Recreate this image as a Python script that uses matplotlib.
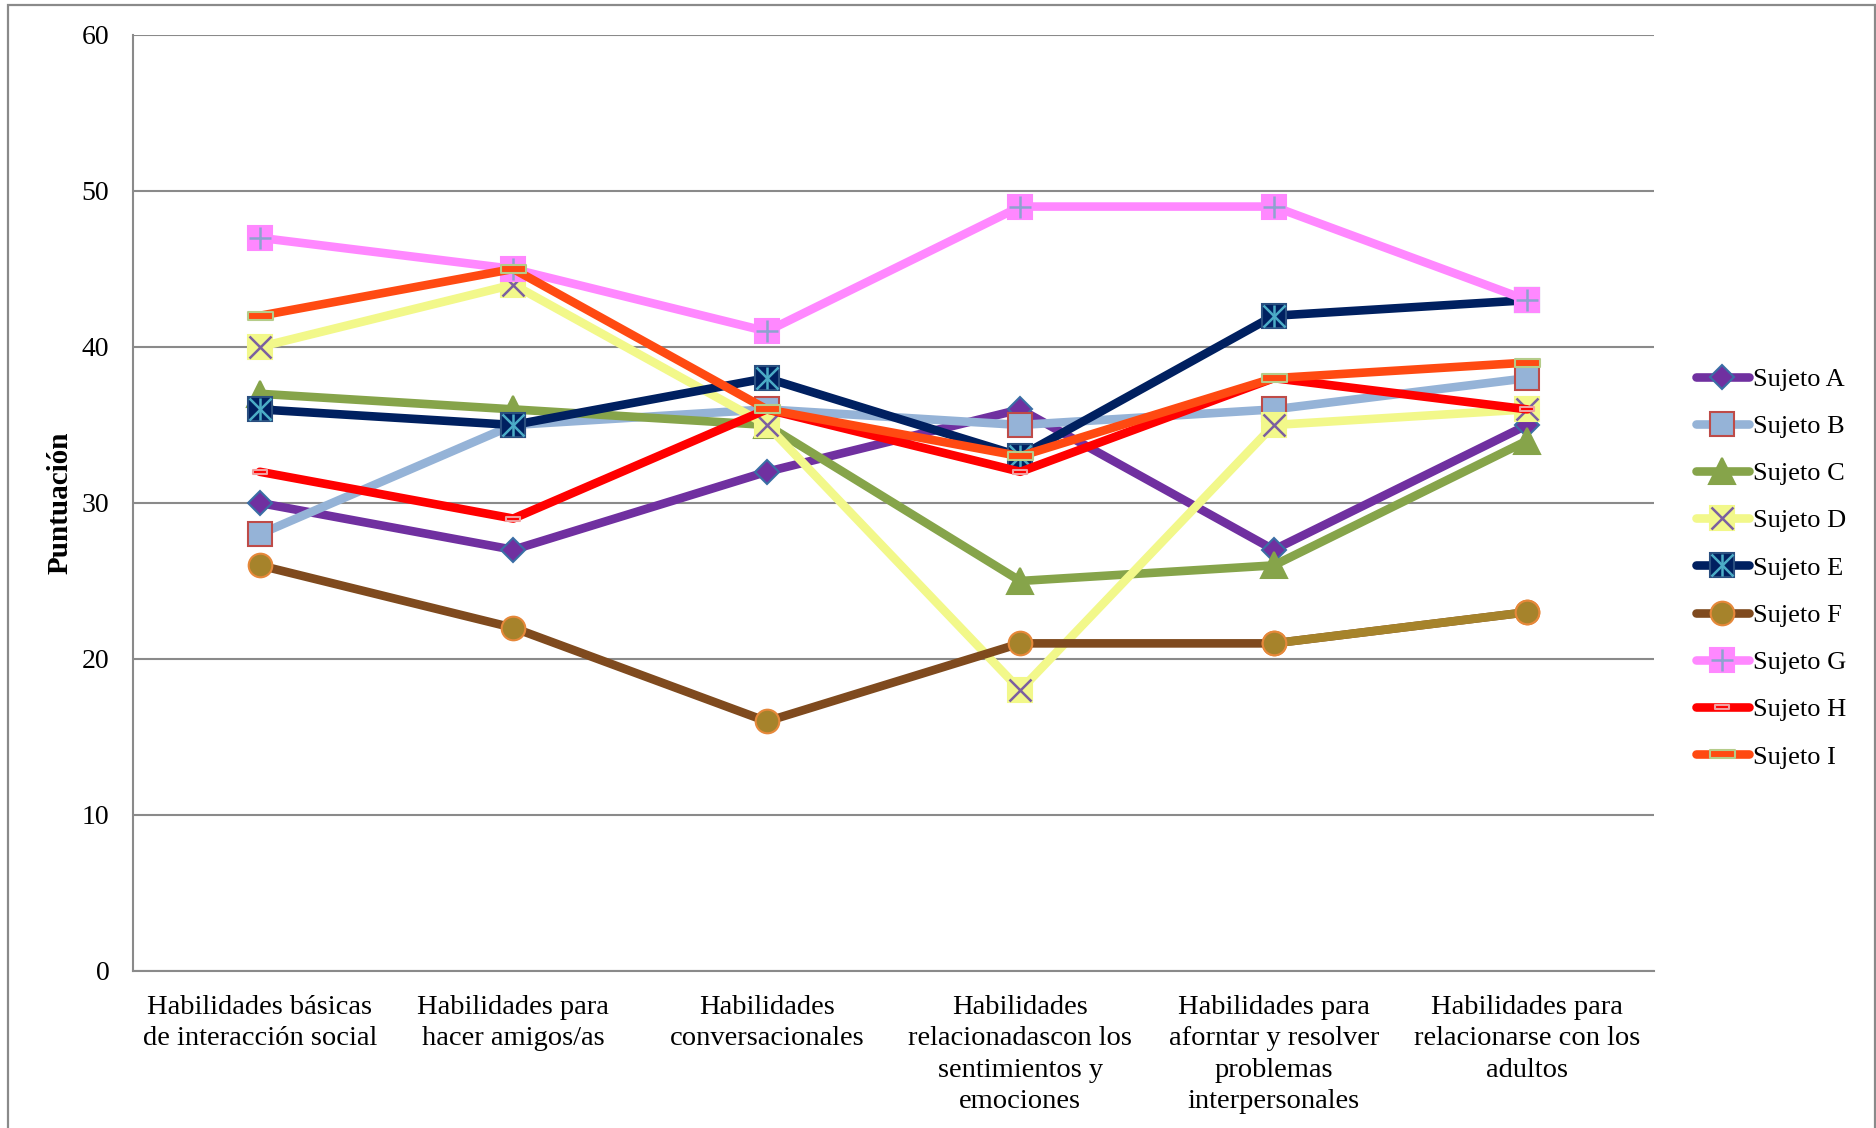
import numpy as np
import matplotlib
matplotlib.use("Agg")
import matplotlib.pyplot as plt
from matplotlib.patches import Rectangle
from matplotlib.path import Path

plt.rcParams["font.family"] = ["Liberation Serif", "DejaVu Serif"]

# =========================
# Data
# =========================
categorias = [
    "Habilidades básicas\nde interacción social",
    "Habilidades para\nhacer amigos/as",
    "Habilidades\nconversacionales",
    "Habilidades\nrelacionadascon los\nsentimientos y\nemociones",
    "Habilidades para\naforntar y resolver\nproblemas\ninterpersonales",
    "Habilidades para\nrelacionarse con los\nadultos",
]

sujeto_a = [30, 27, 32, 36, 27, 35]
sujeto_b = [28, 35, 36, 35, 36, 38]
sujeto_c = [37, 36, 35, 25, 26, 34]
sujeto_d = [40, 44, 35, 18, 35, 36]
sujeto_e = [36, 35, 38, 33, 42, 43]
sujeto_f = [26, 22, 16, 21, 21, 23]
sujeto_g = [47, 45, 41, 49, 49, 43]
sujeto_h = [32, 29, 36, 32, 38, 36]
sujeto_i = [42, 45, 36, 33, 38, 39]

# =========================
# Styles
# =========================
LW = 6.2
GRID = "#8a8a8a"

# flat rectangle used as the "dash" marker
dash = Path([(-1, -0.35), (1, -0.35), (1, 0.35), (-1, 0.35), (-1, -0.35)],
            [Path.MOVETO, Path.LINETO, Path.LINETO, Path.LINETO, Path.CLOSEPOLY])

series = [
    # label, values, line color, marker, size, fill, edge, overlay markers
    ("Sujeto A", sujeto_a, "#7030A0", "D", 12.5, "#7030A0", "#3A6EA5", []),
    ("Sujeto B", sujeto_b, "#95B3D7", "s", 17, "#95B3D7", "#BE4B48", []),
    ("Sujeto C", sujeto_c, "#86A44A", "^", 19, "#86A44A", "#86A44A", []),
    ("Sujeto D", sujeto_d, "#F2F88A", "s", 17, "#F2F88A", "#F2F88A", [("x", "#7B5FA0")]),
    ("Sujeto E", sujeto_e, "#002060", "s", 17, "#002060", "#2A4F80", [("x", "#4BACC6"), ("|", "#4BACC6")]),
    ("Sujeto F", sujeto_f, "#7F4A1E", "o", 17, "#A6832B", "#E6883A", []),
    ("Sujeto G", sujeto_g, "#FF88FF", "s", 17, "#FF88FF", "#FF88FF", [("+", "#8EA2D0")]),
    ("Sujeto H", sujeto_h, "#FF0000", dash, 9.5, "#FF0000", "#F2A0A0", []),
    ("Sujeto I", sujeto_i, "#FF4A12", dash, 18, "#FF4A12", "#B5CC8A", []),
]

x = np.arange(len(categorias))

fig = plt.figure(figsize=(18.76, 11.28), dpi=100)
ax = fig.add_axes([0.0709, 0.1392, 0.8108, 0.8298])

handles = []
for k, (label, vals, lc, mk, ms, mfc, mec, over) in enumerate(series):
    z = 3 + k
    line, = ax.plot(x, vals, color=lc, lw=LW, marker=mk, markersize=ms,
                    markerfacecolor=mfc, markeredgecolor=mec, markeredgewidth=1.5,
                    solid_capstyle="round", solid_joinstyle="round",
                    zorder=z, clip_on=False)
    parts = [line]
    if label == "Sujeto F":
        # last segment of F comes out in the marker colour
        ax.plot(x[-2:], vals[-2:], color=mfc, lw=LW, solid_capstyle="round",
                zorder=z + 0.1)
        ax.plot(x[-2:], vals[-2:], ls="none", marker=mk, markersize=ms,
                markerfacecolor=mfc, markeredgecolor=mec, markeredgewidth=1.5,
                zorder=z + 0.2)
    for om, oc in over:
        o, = ax.plot(x, vals, ls="none", marker=om, markersize=ms * 0.95,
                     markeredgecolor=oc, markeredgewidth=1.8, zorder=z + 0.3)
        parts.append(o)
    handles.append(tuple(parts) if len(parts) > 1 else line)

# =========================
# Axes formatting
# =========================
ax.set_xlim(-0.5, len(categorias) - 0.5)
ax.set_ylim(0, 60)
ax.set_yticks(np.arange(0, 61, 10))
ax.set_xticks(x)
ax.set_xticklabels(categorias, fontsize=20.5, linespacing=1.34)
ax.tick_params(axis="y", labelsize=20, length=0, pad=17)
ax.tick_params(axis="x", length=0, pad=17)

ax.set_ylabel("Puntuación", fontsize=21, fontweight="bold", labelpad=6)

ax.grid(axis="y", color=GRID, lw=1.5)
ax.set_axisbelow(True)
for s in ["top", "right"]:
    ax.spines[s].set_visible(False)
for s in ["left", "bottom"]:
    ax.spines[s].set_color(GRID)
    ax.spines[s].set_linewidth(1.5)

fig.legend(handles, [s[0] for s in series], loc="center left",
           bbox_to_anchor=(0.904, 0.4965), frameon=False, fontsize=19,
           handlelength=2.0, handletextpad=0.15, labelspacing=0.9,
           borderpad=0, borderaxespad=0)

# chart border
fig.patches.append(Rectangle((8 / 1876, -0.05), (1875 - 8) / 1876, 1.05 - 5 / 1128,
                             transform=fig.transFigure, fill=False,
                             edgecolor="#8a8a8a", lw=1.6))

fig.savefig("out.png", dpi=100)
